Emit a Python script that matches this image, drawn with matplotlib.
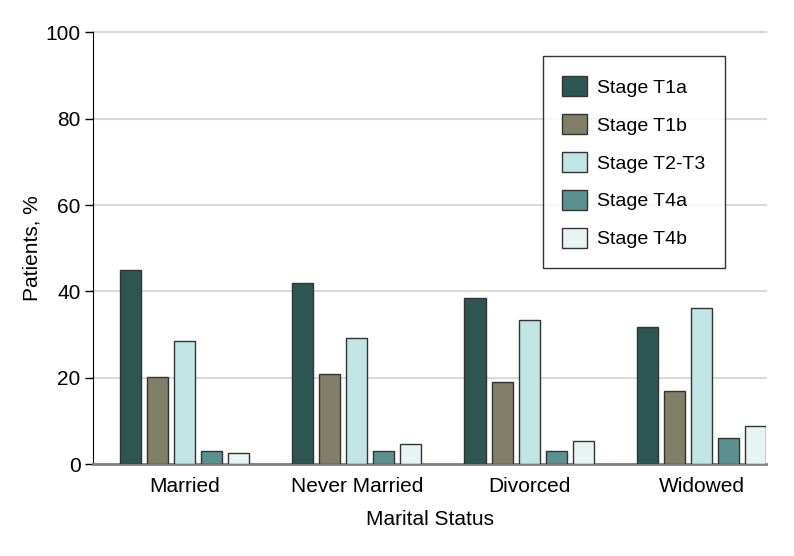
import numpy as np
import matplotlib
matplotlib.use("Agg")
import matplotlib.pyplot as plt

plt.rcParams['font.family'] = ['Liberation Sans', 'DejaVu Sans']

categories = ['Married', 'Never Married', 'Divorced', 'Widowed']
stages = ['Stage T1a', 'Stage T1b', 'Stage T2-T3', 'Stage T4a', 'Stage T4b']
values = {
    'Stage T1a': [44.9, 41.9, 38.4, 31.7],
    'Stage T1b': [20.1, 20.8, 19.0, 16.9],
    'Stage T2-T3': [28.6, 29.2, 33.3, 36.1],
    'Stage T4a': [3.1, 3.1, 3.1, 6.1],
    'Stage T4b': [2.7, 4.7, 5.4, 8.8],
}
colors = ['#2d5653', '#827f68', '#c1e5e5', '#5a9190', '#e8f3f3']

fig = plt.figure(figsize=(7.94, 5.56), dpi=100)
ax = fig.add_axes([0.117, 0.165, 0.848, 0.777])

x = np.arange(len(categories))
step = 0.157
width = 0.122
for i, (stage, c) in enumerate(zip(stages, colors)):
    ax.bar(x + (i - 2) * step, values[stage], width, color=c,
           edgecolor='#333333', linewidth=1.0, label=stage, zorder=3)

ax.set_ylim(0, 100)
ax.set_xlim(-0.53, 3.375)
ax.set_yticks(range(0, 101, 20))
ax.set_xticks(x)
ax.set_xticklabels(categories)
ax.tick_params(axis='x', length=0, pad=9, labelsize=15)
ax.tick_params(axis='y', length=6, width=1, direction='out', labelsize=15, pad=3)
ax.yaxis.grid(True, color='#d9d9d9', linewidth=1.5, zorder=0)
for gl in ax.get_ygridlines():
    gl.set_clip_on(False)
ax.set_axisbelow(True)

for s in ['top', 'right']:
    ax.spines[s].set_visible(False)
ax.spines['left'].set_color('black')
ax.spines['bottom'].set_color('#808080')
ax.spines['bottom'].set_linewidth(2)

ax.set_ylabel('Patients, %', fontsize=15, labelpad=3)
ax.set_xlabel('Marital Status', fontsize=15, labelpad=10)

leg = ax.legend(loc='upper right', bbox_to_anchor=(0.939, 0.944), fontsize=14,
                frameon=True, fancybox=False, edgecolor='black',
                handlelength=1.25, handleheight=1.25, labelspacing=0.88,
                borderpad=1.0, handletextpad=0.55, borderaxespad=0)
leg.get_frame().set_linewidth(1.0)

fig.savefig('out.png', dpi=100)
